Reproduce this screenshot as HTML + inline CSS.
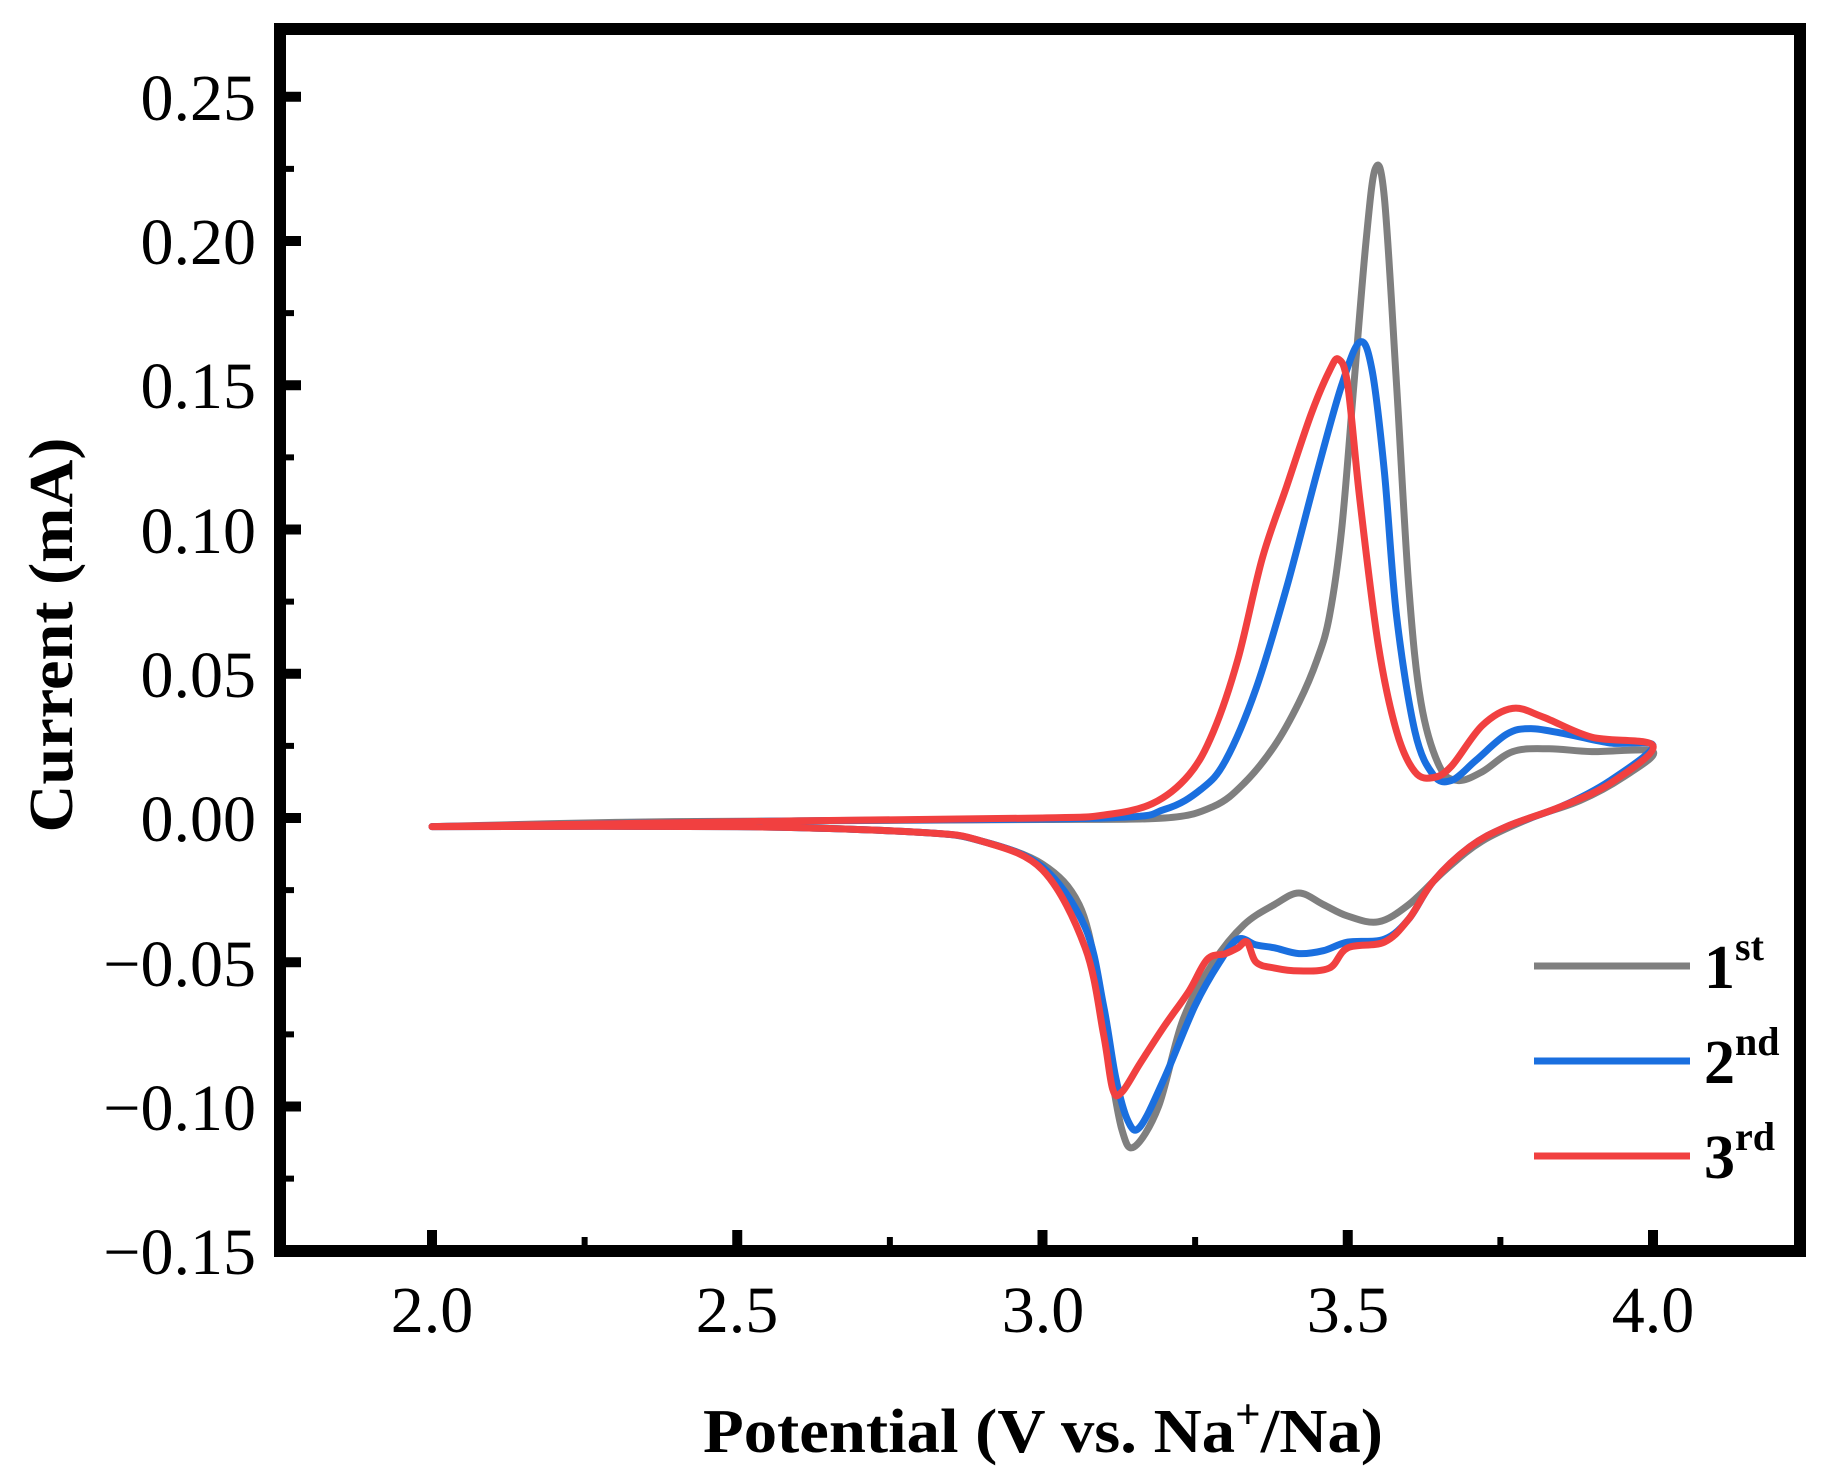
<!DOCTYPE html>
<html><head><meta charset="utf-8"><style>html,body{margin:0;padding:0;background:#fff}svg{display:block}</style></head>
<body>
<svg id="s" width="1828" height="1484" viewBox="0 0 1828 1484" xmlns="http://www.w3.org/2000/svg" font-family="Liberation Serif, serif">
<rect width="1828" height="1484" fill="#fff"/>
<g id="curves" fill="none" stroke-width="7" stroke-linejoin="round" stroke-linecap="round"></g>
<rect x="280" y="29" width="1520" height="1222" fill="none" stroke="#000" stroke-width="12"/>
<g id="ticks" stroke="#000"></g>
<g font-size="66" text-anchor="end" fill="#000">
<text x="256" y="120">0.25</text>
<text x="256" y="264">0.20</text>
<text x="256" y="408">0.15</text>
<text x="256" y="553">0.10</text>
<text x="256" y="697">0.05</text>
<text x="256" y="841">0.00</text>
<text x="256" y="986">−0.05</text>
<text x="256" y="1130">−0.10</text>
<text x="256" y="1274">−0.15</text>
</g>
<g font-size="66" text-anchor="middle" fill="#000">
<text x="432" y="1332">2.0</text>
<text x="737" y="1332">2.5</text>
<text x="1043" y="1332">3.0</text>
<text x="1348" y="1332">3.5</text>
<text x="1653" y="1332">4.0</text>
</g>
<text x="1043" y="1452" font-size="62" font-weight="bold" text-anchor="middle" textLength="680" lengthAdjust="spacingAndGlyphs">Potential (V vs. Na<tspan dy="-24" font-size="42">+</tspan><tspan dy="24">/Na)</tspan></text>
<text transform="translate(72,635) rotate(-90)" font-size="62" font-weight="bold" text-anchor="middle" textLength="395" lengthAdjust="spacingAndGlyphs">Current (mA)</text>
<g stroke-width="7">
<line x1="1534" y1="966" x2="1690" y2="966" stroke="#7f7f7f"/>
<line x1="1534" y1="1061" x2="1690" y2="1061" stroke="#1a6fdf"/>
<line x1="1534" y1="1156" x2="1690" y2="1156" stroke="#f14040"/>
</g>
<g font-size="62" font-weight="bold" fill="#000">
<text x="1704" y="988">1<tspan dy="-28" font-size="40">st</tspan></text>
<text x="1704" y="1083">2<tspan dy="-28" font-size="40">nd</tspan></text>
<text x="1704" y="1178">3<tspan dy="-28" font-size="40">rd</tspan></text>
</g>
</svg>
<script>
var X=function(v){return 432+(v-2)*610.5;},Y=function(i){return 818-i/0.05*144.25;};
var tk=document.getElementById('ticks'),h='';
for(var k=0;k<=16;k++){var val=-0.15+k*0.025;var y=Y(val);var maj=(k%2==0);h+='<line x1="286" y1="'+y+'" x2="'+(286+(maj?15:8))+'" y2="'+y+'" stroke-width="'+(maj?10:6)+'"/>';}
for(var k=0;k<=9;k++){var v=1.75+k*0.25;if(v<1.8)continue;var x=X(v);var maj=Math.abs((v*2)-Math.round(v*2))<1e-6;h+='<line x1="'+x+'" y1="1245" x2="'+x+'" y2="'+(1245-(maj?15:8))+'" stroke-width="'+(maj?10:6)+'"/>';}
tk.innerHTML=h;
function path(p){var q=p.map(function(a){return [X(a[0]),Y(a[1])];});var d='M'+q[0][0]+','+q[0][1];
for(var i=0;i<q.length-1;i++){var p0=q[Math.max(0,i-1)],p1=q[i],p2=q[i+1],p3=q[Math.min(q.length-1,i+2)];
d+=' C'+(p1[0]+(p2[0]-p0[0])/6)+','+(p1[1]+(p2[1]-p0[1])/6)+' '+(p2[0]-(p3[0]-p1[0])/6)+','+(p2[1]-(p3[1]-p1[1])/6)+' '+p2[0]+','+p2[1];}
return d;}
var G=[[2.0,-0.003],[2.3,-0.0015],[2.6,-0.001],[3.0,-0.0005],[3.2,0.0],[3.28,0.004],[3.33,0.012],[3.38,0.025],[3.42,0.04],[3.45,0.055],[3.47,0.07],[3.49,0.1],[3.51,0.15],[3.53,0.2],[3.545,0.225],[3.56,0.215],[3.58,0.15],[3.60,0.08],[3.62,0.04],[3.65,0.018],[3.68,0.013],[3.72,0.016],[3.77,0.023],[3.83,0.024],[3.9,0.023],[4.0,0.023],
[3.95,0.014],[3.88,0.006],[3.8,0.0],[3.72,-0.008],[3.66,-0.018],[3.6,-0.03],[3.55,-0.036],[3.5,-0.034],[3.46,-0.03],[3.42,-0.026],[3.38,-0.03],[3.33,-0.037],[3.28,-0.05],[3.23,-0.07],[3.19,-0.1],[3.15,-0.114],[3.13,-0.108],[3.11,-0.085],[3.09,-0.055],[3.06,-0.03],[3.0,-0.016],[2.9,-0.008],[2.8,-0.005],[2.5,-0.003],[2.0,-0.003]];
var B=[[2.0,-0.003],[2.6,-0.001],[3.1,0],[3.2,0.003],[3.26,0.01],[3.3,0.02],[3.35,0.045],[3.4,0.08],[3.45,0.12],[3.49,0.15],[3.52,0.165],[3.54,0.155],[3.56,0.12],[3.58,0.07],[3.61,0.03],[3.64,0.015],[3.67,0.013],[3.71,0.02],[3.76,0.029],[3.8,0.031],[3.86,0.029],[3.93,0.026],[4.0,0.025],
[3.93,0.013],[3.85,0.004],[3.76,-0.003],[3.7,-0.01],[3.64,-0.022],[3.6,-0.035],[3.56,-0.042],[3.5,-0.043],[3.46,-0.046],[3.42,-0.047],[3.38,-0.045],[3.35,-0.044],[3.32,-0.042],[3.29,-0.05],[3.25,-0.065],[3.2,-0.09],[3.16,-0.107],[3.14,-0.105],[3.12,-0.09],[3.1,-0.065],[3.07,-0.038],[3.0,-0.017],[2.9,-0.008],[2.8,-0.005],[2.5,-0.003],[2.0,-0.003]];
var R=[[2.0,-0.003],[2.6,-0.001],[3.0,0],[3.1,0.001],[3.18,0.005],[3.24,0.015],[3.28,0.03],[3.32,0.055],[3.36,0.09],[3.4,0.115],[3.44,0.14],[3.47,0.155],[3.485,0.159],[3.5,0.15],[3.52,0.11],[3.55,0.06],[3.58,0.03],[3.61,0.016],[3.64,0.014],[3.67,0.018],[3.72,0.032],[3.77,0.038],[3.82,0.035],[3.9,0.028],[4.0,0.025],
[3.93,0.012],[3.85,0.004],[3.76,-0.003],[3.7,-0.01],[3.64,-0.022],[3.6,-0.035],[3.56,-0.043],[3.5,-0.045],[3.47,-0.052],[3.42,-0.053],[3.38,-0.052],[3.35,-0.05],[3.335,-0.043],[3.32,-0.045],[3.3,-0.047],[3.27,-0.049],[3.24,-0.06],[3.2,-0.072],[3.16,-0.085],[3.13,-0.095],[3.115,-0.094],[3.1,-0.075],[3.07,-0.045],[3.0,-0.018],[2.9,-0.008],[2.8,-0.005],[2.5,-0.003],[2.0,-0.003]];
document.getElementById('curves').innerHTML='<path d="'+path(G)+'" stroke="#7f7f7f"/><path d="'+path(B)+'" stroke="#1a6fdf"/><path d="'+path(R)+'" stroke="#f14040"/>';
</script>
</body></html>
